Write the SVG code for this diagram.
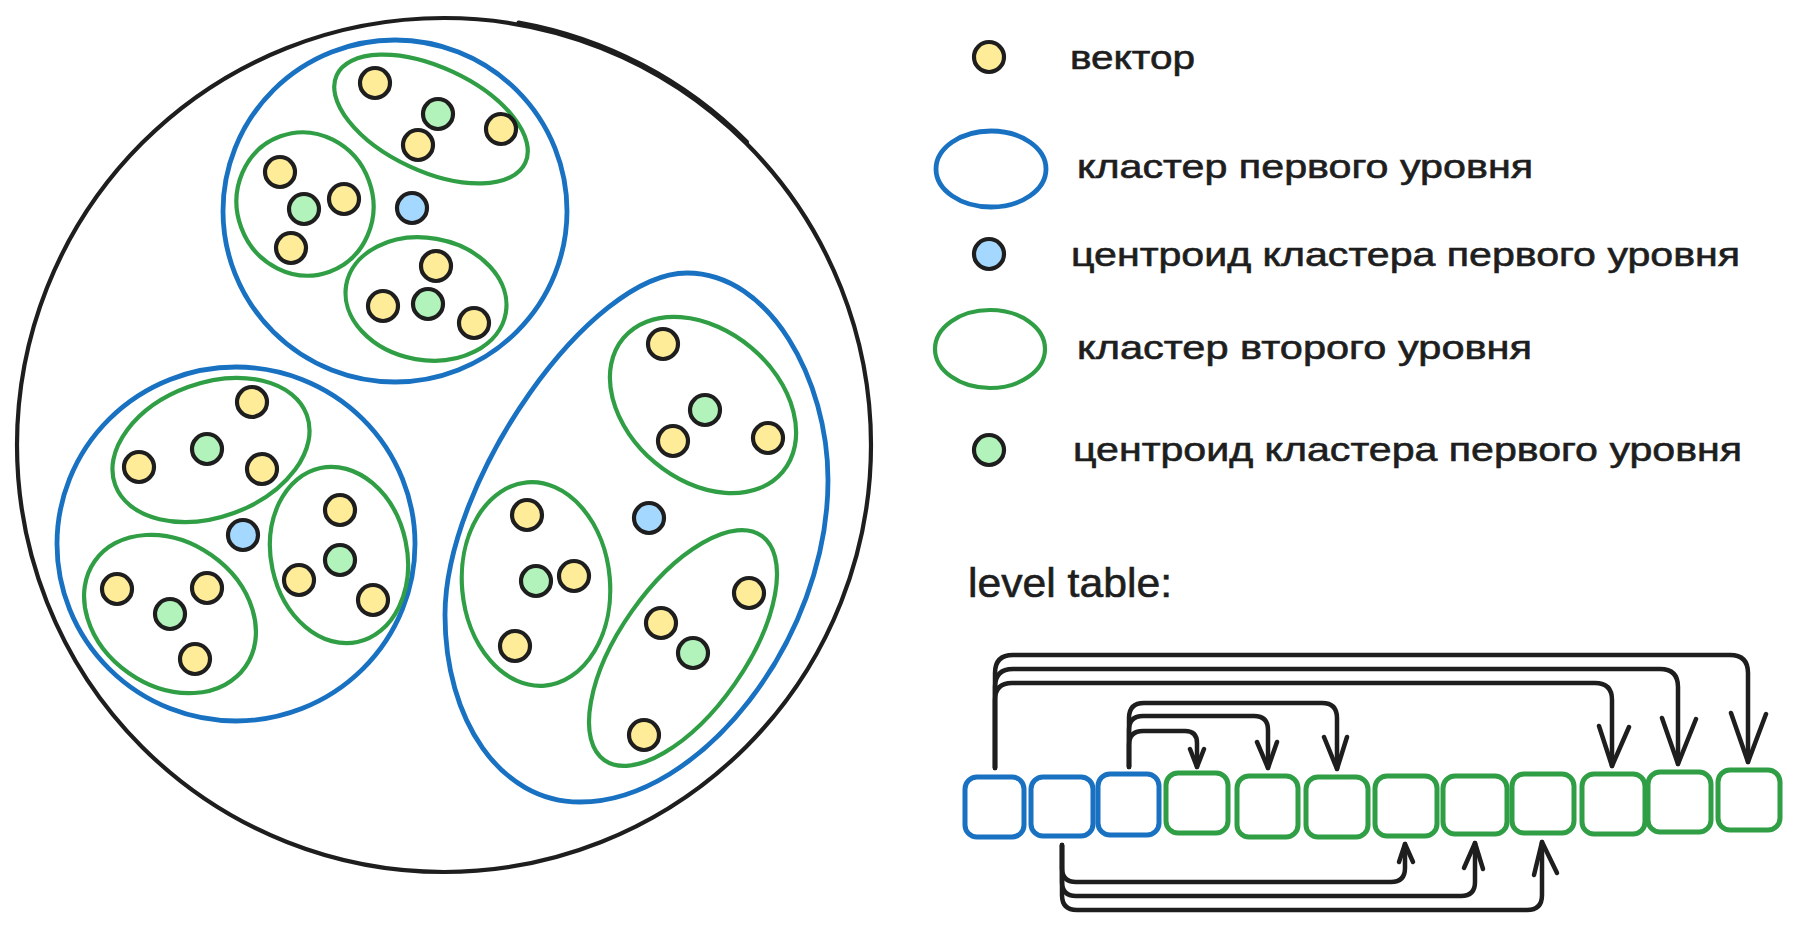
<svg xmlns="http://www.w3.org/2000/svg" width="1799" height="931" viewBox="0 0 1799 931">
  <style>
    .outer { fill: none; stroke: #1e1e1e; stroke-width: 4.2; stroke-linecap: round; }
    .c1 { fill: none; stroke: #1971c2; stroke-width: 4.8; stroke-linecap: round; }
    .c2 { fill: none; stroke: #2f9e44; stroke-width: 4.2; stroke-linecap: round; }
    .dot { stroke: #1e1e1e; stroke-width: 4.2; }
    .v { fill: #ffec99; }
    .b { fill: #a5d8ff; }
    .g { fill: #b2f2bb; }
    .cellb { fill: none; stroke: #1971c2; stroke-width: 5; }
    .cellg { fill: none; stroke: #2f9e44; stroke-width: 5; }
    .arr { fill: none; stroke: #1e1e1e; stroke-width: 4.5; stroke-linecap: round; stroke-linejoin: round; }
    .lbl { font-family: "Liberation Sans", Arial, sans-serif; font-size: 33px; fill: #1e1e1e; stroke: #1e1e1e; stroke-width: 0.6; }
    .ttl { font-family: "Liberation Sans", Arial, sans-serif; font-size: 40px; fill: #1e1e1e; stroke: #1e1e1e; stroke-width: 0.6; }
  </style>
  <rect width="1799" height="931" fill="#ffffff"/>

  <!-- outer space -->
  <g id="space">
    <circle class="outer" cx="444" cy="445" r="427"/>
    <path class="outer" d="M 518.5 22.5 A 429 429 0 0 1 747 142" stroke-width="1.6"/>
  </g>

  <!-- top first-level cluster -->
  <g id="cluster-top">
    <ellipse class="c1" cx="395" cy="211" rx="172" ry="171"/>
    <g id="top-a">
      <ellipse class="c2" cx="431" cy="119" rx="104" ry="52" transform="rotate(25 431 119)"/>
      <circle class="dot v" cx="375" cy="83" r="15"/>
      <circle class="dot g" cx="438" cy="114" r="15"/>
      <circle class="dot v" cx="418" cy="145" r="15"/>
      <circle class="dot v" cx="501" cy="129" r="15"/>
    </g>
    <g id="top-b">
      <ellipse class="c2" cx="305" cy="204" rx="68" ry="72" transform="rotate(-20 305 204)"/>
      <circle class="dot v" cx="280" cy="172" r="15"/>
      <circle class="dot v" cx="344" cy="199" r="15"/>
      <circle class="dot g" cx="304" cy="209" r="15"/>
      <circle class="dot v" cx="291" cy="248" r="15"/>
    </g>
    <g id="top-c">
      <ellipse class="c2" cx="426" cy="299" rx="81" ry="61" transform="rotate(10 426 299)"/>
      <circle class="dot v" cx="436" cy="266" r="15"/>
      <circle class="dot v" cx="383" cy="306" r="15"/>
      <circle class="dot g" cx="428" cy="304" r="15"/>
      <circle class="dot v" cx="474" cy="323" r="15"/>
    </g>
    <circle class="dot b" cx="412" cy="208" r="15"/>
  </g>

  <!-- bottom-left first-level cluster -->
  <g id="cluster-left">
    <ellipse class="c1" cx="236" cy="544" rx="179" ry="177"/>
    <g id="left-a">
      <ellipse class="c2" cx="211" cy="450" rx="102" ry="67" transform="rotate(-20 211 450)"/>
      <circle class="dot v" cx="252" cy="402" r="15"/>
      <circle class="dot g" cx="207" cy="449" r="15"/>
      <circle class="dot v" cx="139" cy="467" r="15"/>
      <circle class="dot v" cx="262" cy="469" r="15"/>
    </g>
    <g id="left-b">
      <ellipse class="c2" cx="170" cy="614" rx="92" ry="72" transform="rotate(35 170 614)"/>
      <circle class="dot v" cx="117" cy="589" r="15"/>
      <circle class="dot v" cx="207" cy="588" r="15"/>
      <circle class="dot g" cx="170" cy="614" r="15"/>
      <circle class="dot v" cx="195" cy="659" r="15"/>
    </g>
    <g id="left-c">
      <ellipse class="c2" cx="339" cy="555" rx="68" ry="89" transform="rotate(-12 339 555)"/>
      <circle class="dot v" cx="340" cy="510" r="15"/>
      <circle class="dot g" cx="340" cy="560" r="15"/>
      <circle class="dot v" cx="299" cy="580" r="15"/>
      <circle class="dot v" cx="373" cy="600" r="15"/>
    </g>
    <circle class="dot b" cx="243" cy="535" r="15"/>
  </g>

  <!-- right first-level cluster -->
  <g id="cluster-right">
    <path class="c1" d="M 687 273 C 770 273 828 380 828 480 C 828 640 700 802 580 802 C 500 802 445 720 445 615 C 445 480 590 273 687 273 Z"/>
    <g id="right-a">
      <ellipse class="c2" cx="703" cy="405" rx="104" ry="75" transform="rotate(40 703 405)"/>
      <circle class="dot v" cx="663" cy="344" r="15"/>
      <circle class="dot g" cx="705" cy="410" r="15"/>
      <circle class="dot v" cx="673" cy="441" r="15"/>
      <circle class="dot v" cx="768" cy="438" r="15"/>
    </g>
    <g id="right-b">
      <ellipse class="c2" cx="536" cy="584" rx="74" ry="102" transform="rotate(-5 536 584)"/>
      <circle class="dot v" cx="527" cy="515" r="15"/>
      <circle class="dot g" cx="536" cy="581" r="15"/>
      <circle class="dot v" cx="574" cy="576" r="15"/>
      <circle class="dot v" cx="515" cy="646" r="15"/>
    </g>
    <g id="right-c">
      <ellipse class="c2" cx="683" cy="648" rx="63" ry="137" transform="rotate(35 683 648)"/>
      <circle class="dot v" cx="749" cy="593" r="15"/>
      <circle class="dot v" cx="661" cy="623" r="15"/>
      <circle class="dot g" cx="693" cy="653" r="15"/>
      <circle class="dot v" cx="644" cy="735" r="15"/>
    </g>
    <circle class="dot b" cx="649" cy="518" r="15"/>
  </g>

  <!-- legend -->
  <g id="legend-vector">
    <circle class="dot v" cx="989" cy="57" r="15"/>
    <text class="lbl" x="1070" y="69" textLength="125" lengthAdjust="spacingAndGlyphs">вектор</text>
  </g>
  <g id="legend-cluster1">
    <ellipse class="c1" cx="991" cy="169" rx="55" ry="38" stroke-width="5.5"/>
    <text class="lbl" x="1077" y="178" textLength="456" lengthAdjust="spacingAndGlyphs">кластер первого уровня</text>
  </g>
  <g id="legend-centroid1">
    <circle class="dot b" cx="989" cy="254" r="15"/>
    <text class="lbl" x="1071" y="266" textLength="669" lengthAdjust="spacingAndGlyphs">центроид кластера первого уровня</text>
  </g>
  <g id="legend-cluster2">
    <ellipse class="c2" cx="990" cy="349" rx="55" ry="39" stroke-width="5"/>
    <text class="lbl" x="1077" y="359" textLength="455" lengthAdjust="spacingAndGlyphs">кластер второго уровня</text>
  </g>
  <g id="legend-centroid2">
    <circle class="dot g" cx="989" cy="450" r="15"/>
    <text class="lbl" x="1073" y="461" textLength="669" lengthAdjust="spacingAndGlyphs">центроид кластера первого уровня</text>
  </g>

  <!-- level table -->
  <g id="level-title">
    <text class="ttl" x="968" y="597" textLength="204" lengthAdjust="spacingAndGlyphs">level table:</text>
  </g>
  <g id="cell-1"><rect class="cellb" x="965" y="777" width="59" height="60" rx="12"/></g>
  <g id="cell-2"><rect class="cellb" x="1031" y="777" width="62" height="59" rx="12"/></g>
  <g id="cell-3"><rect class="cellb" x="1098" y="774" width="61" height="61" rx="12"/></g>
  <g id="cell-4"><rect class="cellg" x="1166" y="773" width="62" height="60" rx="12"/></g>
  <g id="cell-5"><rect class="cellg" x="1237" y="776" width="61" height="61" rx="12"/></g>
  <g id="cell-6"><rect class="cellg" x="1306" y="777" width="62" height="60" rx="12"/></g>
  <g id="cell-7"><rect class="cellg" x="1375" y="776" width="62" height="60" rx="12"/></g>
  <g id="cell-8"><rect class="cellg" x="1443" y="776" width="64" height="58" rx="12"/></g>
  <g id="cell-9"><rect class="cellg" x="1512" y="774" width="62" height="59" rx="12"/></g>
  <g id="cell-10"><rect class="cellg" x="1582" y="774" width="63" height="60" rx="12"/></g>
  <g id="cell-11"><rect class="cellg" x="1648" y="772" width="63" height="60" rx="12"/></g>
  <g id="cell-12"><rect class="cellg" x="1718" y="770" width="62" height="60" rx="12"/></g>

  <g id="connectors">
    <!-- from cell 1 -->
    <path class="arr" d="M 995 768 L 995 673 Q 995 655 1013 655 L 1730 655 Q 1748 655 1748 673 L 1748 762"/>
    <path class="arr" d="M 1731 713 L 1748 762 L 1766 714"/>
    <path class="arr" d="M 995 768 L 995 687 Q 995 669 1013 669 L 1660 669 Q 1678 669 1678 687 L 1678 764"/>
    <path class="arr" d="M 1662 718 L 1678 764 L 1696 719"/>
    <path class="arr" d="M 995 768 L 995 700 Q 995 683 1012 683 L 1595 683 Q 1612 683 1612 700 L 1612 766"/>
    <path class="arr" d="M 1599 726 L 1612 766 L 1629 727"/>
    <!-- from cell 3 -->
    <path class="arr" d="M 1129 767 L 1129 745 Q 1129 731 1143 731 L 1185 731 Q 1197 731 1197 743 L 1197 767"/>
    <path class="arr" d="M 1190 749 L 1197 767 L 1204 749"/>
    <path class="arr" d="M 1129 767 L 1129 730 Q 1129 716 1143 716 L 1254 716 Q 1268 716 1268 730 L 1268 768"/>
    <path class="arr" d="M 1257 742 L 1268 768 L 1277 742"/>
    <path class="arr" d="M 1129 767 L 1129 718 Q 1129 703 1144 703 L 1322 703 Q 1337 703 1337 718 L 1337 769"/>
    <path class="arr" d="M 1324 737 L 1337 769 L 1347 737"/>
    <!-- from cell 2 -->
    <path class="arr" d="M 1062 845 L 1062 868 Q 1062 882 1076 882 L 1391 882 Q 1405 882 1405 868 L 1405 844"/>
    <path class="arr" d="M 1399 862 L 1405 844 L 1413 862"/>
    <path class="arr" d="M 1062 845 L 1062 882 Q 1062 896 1076 896 L 1461 896 Q 1475 896 1475 882 L 1475 843"/>
    <path class="arr" d="M 1464 868 L 1475 843 L 1483 869"/>
    <path class="arr" d="M 1062 845 L 1062 895 Q 1062 910 1077 910 L 1527 910 Q 1542 910 1542 895 L 1542 842"/>
    <path class="arr" d="M 1534 875 L 1542 842 L 1557 873"/>
  </g>
</svg>
